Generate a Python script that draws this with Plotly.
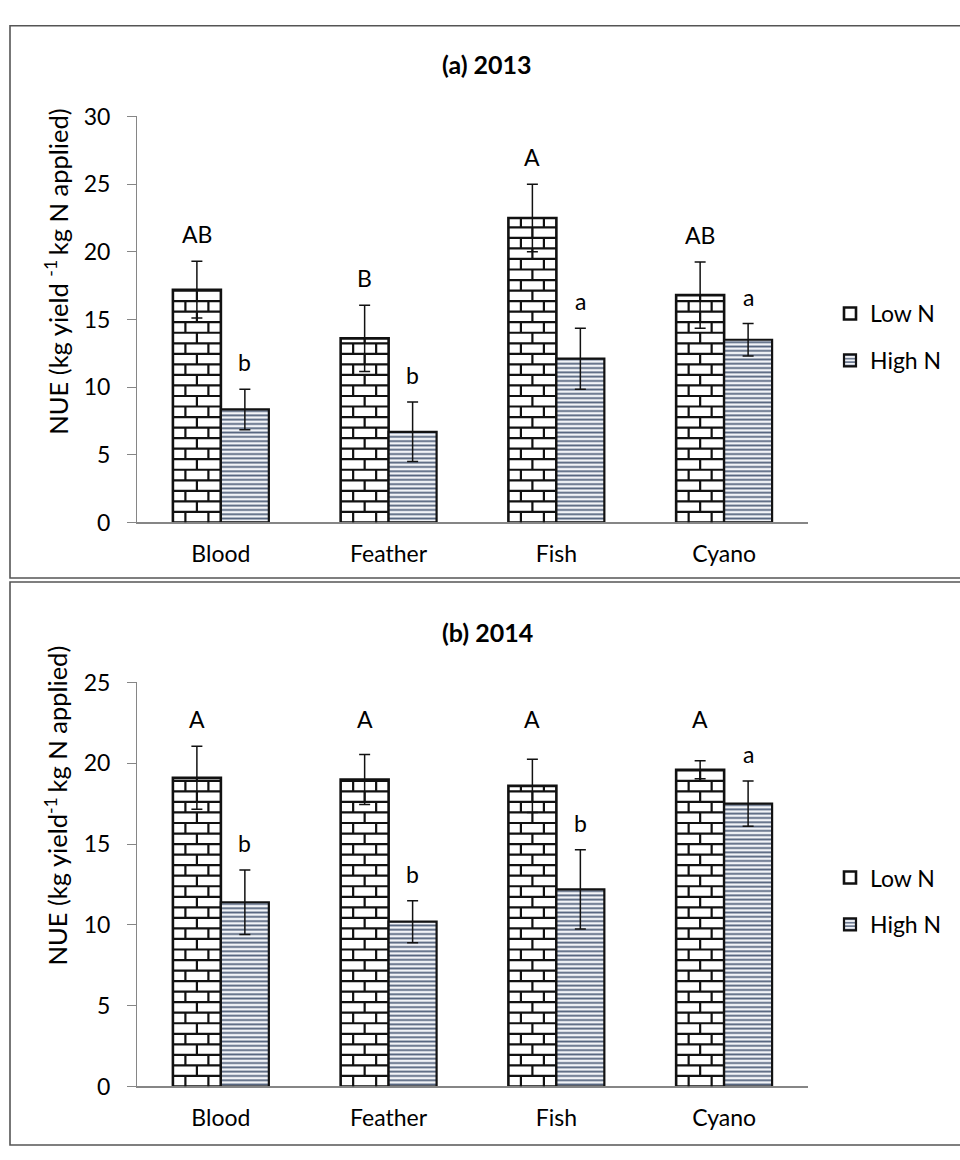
import plotly.graph_objects as go

# ---- data -------------------------------------------------------------
categories = ["Blood", "Feather", "Fish", "Cyano"]
series_names = ["Low N", "High N"]

nue_2013_low = [17.2, 13.6, 22.5, 16.8]
err_2013_low = [2.1, 2.45, 2.5, 2.45]
nue_2013_high = [8.35, 6.7, 12.1, 13.5]
err_2013_high = [1.5, 2.2, 2.25, 1.2]
letters_2013_low = ["AB", "B", "A", "AB"]
letters_2013_high = ["b", "b", "a", "a"]

nue_2014_low = [19.1, 19.0, 18.6, 19.6]
err_2014_low = [1.95, 1.55, 1.65, 0.55]
nue_2014_high = [11.4, 10.2, 12.2, 17.5]
err_2014_high = [2.0, 1.3, 2.45, 1.4]
letters_2014_low = ["A", "A", "A", "A"]
letters_2014_high = ["b", "b", "b", "a"]

y_ticks_2013 = [0, 5, 10, 15, 20, 25, 30]
y_ticks_2014 = [0, 5, 10, 15, 20, 25]

# ---- geometry / style -------------------------------------------------
W, H = 960, 1160
PX0, PX1 = 137, 808              # plot area left / right (px)
PANELS = {
    "a": dict(top=104, bottom=520, ymax=30),
    "b": dict(top=684, bottom=1098, ymax=25),
}
BAR_W = 0.286                    # bar width in category units
FONT = "Lato"
FS = 23
AXIS_GREY = "#868686"
INK = "#111111"

cat_px = (PX1 - PX0) / len(categories)


def pdom_y(top, bottom):
    return [(H - bottom) / H, (H - top) / H]


def brick_path(x_left, value, ppu):
    """Running-bond brick texture for one bar, in data coordinates."""
    row_h = 10.8 / ppu
    parts = []
    y = row_h
    while y < value - 1e-9:
        parts.append(f"M{x_left},{y} L{x_left + BAR_W},{y}")
        y += row_h
    r = 0
    ylo = 0.0
    while ylo < value - 1e-9:
        yhi = min(ylo + row_h, value)
        offs = [12.5, 35.5] if r % 2 == 0 else [24.0]
        for o in offs:
            xx = x_left + o / cat_px
            parts.append(f"M{xx},{ylo} L{xx},{yhi}")
        ylo += row_h
        r += 1
    return " ".join(parts)


fig = go.Figure()
shapes = []
annotations = []

panel_data = [
    ("a", "x", "y", "legend", nue_2013_low, err_2013_low, nue_2013_high, err_2013_high,
     letters_2013_low, letters_2013_high, False),
    ("b", "x2", "y2", "legend2", nue_2014_low, err_2014_low, nue_2014_high, err_2014_high,
     letters_2014_low, letters_2014_high, True),
]

xpos = list(range(len(categories)))

for (key, xa, ya, leg, low, elow, high, ehigh, let_low, let_high, align_low) in panel_data:
    p = PANELS[key]
    ppu = (p["bottom"] - p["top"]) / p["ymax"]

    fig.add_trace(go.Bar(
        x=xpos, y=low, width=BAR_W, offset=-BAR_W, name=series_names[0],
        xaxis=xa, yaxis=ya, legend=leg, legendgroup=key + "low",
        marker=dict(color="white", line=dict(color=INK, width=2.6)),
        error_y=dict(type="data", array=elow, color=INK, thickness=1.5, width=5.5),
    ))
    fig.add_trace(go.Bar(
        x=xpos, y=high, width=BAR_W, offset=0, name=series_names[1],
        xaxis=xa, yaxis=ya, legend=leg, legendgroup=key + "high",
        marker=dict(color="#eef1f5", line=dict(color=INK, width=2.2),
                    pattern=dict(shape="-", fgcolor="#55647e", bgcolor="#f2f4f8",
                                 size=4.3, solidity=0.42, fillmode="replace")),
        error_y=dict(type="data", array=ehigh, color=INK, thickness=1.5, width=5.5),
    ))

    # brick texture over the Low N bars
    for i, v in enumerate(low):
        shapes.append(dict(type="path", xref=xa, yref=ya,
                           path=brick_path(i - BAR_W, v, ppu),
                           line=dict(color=INK, width=2.2), layer="above"))

    # significance letters
    low_tops = [v + e for v, e in zip(low, elow)]
    high_tops = [v + e for v, e in zip(high, ehigh)]
    for i in xpos:
        ylow = max(low_tops) if align_low else low_tops[i]
        annotations.append(dict(x=i - BAR_W / 2, y=ylow, xref=xa, yref=ya,
                                text=let_low[i], showarrow=False, yshift=27,
                                font=dict(family=FONT, size=FS, color="black")))
        annotations.append(dict(x=i + BAR_W / 2, y=high_tops[i], xref=xa, yref=ya,
                                text=let_high[i], showarrow=False, yshift=27,
                                font=dict(family=FONT, size=FS, color="black")))

# ---- axes -------------------------------------------------------------
xdom = [PX0 / W, PX1 / W]
common_x = dict(range=[-0.5, len(categories) - 0.5], tickvals=xpos, ticktext=categories,
                showline=True, linecolor=AXIS_GREY, linewidth=1.5, ticks="",
                showgrid=False, zeroline=False, ticklabelstandoff=10,
                tickfont=dict(family=FONT, size=FS, color="black"), fixedrange=True)
common_y = dict(showline=True, linecolor=AXIS_GREY, linewidth=1, ticks="outside",
                ticklen=9, tickcolor=AXIS_GREY, showgrid=False, zeroline=False,
                ticklabelstandoff=12, tickfont=dict(family=FONT, size=FS, color="black"))

layout_axes = dict(
    xaxis=dict(domain=xdom, anchor="y", **common_x),
    xaxis2=dict(domain=xdom, anchor="y2", **common_x),
    yaxis=dict(domain=pdom_y(PANELS["a"]["top"], PANELS["a"]["bottom"]), anchor="x",
               range=[0, PANELS["a"]["ymax"]], tickvals=y_ticks_2013, **common_y),
    yaxis2=dict(domain=pdom_y(PANELS["b"]["top"], PANELS["b"]["bottom"]), anchor="x2",
                range=[0, PANELS["b"]["ymax"]], tickvals=y_ticks_2014, **common_y),
)

# ---- panel frames -----------------------------------------------------
for top, bottom in [(11, 577), (581, 1158)]:
    shapes.append(dict(type="rect", xref="paper", yref="paper",
                       x0=10 / W, x1=1.05, y0=(H - bottom) / H, y1=(H - top) / H,
                       line=dict(color="#555555", width=1.6), layer="below"))

# ---- titles -----------------------------------------------------------
for text, ycen in [("<b>(a) 2013</b>", 50), ("<b>(b) 2014</b>", 632)]:
    annotations.append(dict(x=487 / W, y=(H - ycen) / H, xref="paper", yref="paper",
                            text=text, showarrow=False, xanchor="center", yanchor="middle",
                            font=dict(family=FONT, size=25, color="black")))

for text, ycen in [("NUE (kg yield <sup>-1 </sup>kg N applied)", 263),
                   ("NUE (kg yield<sup>-1 </sup>kg N applied)", 810)]:
    annotations.append(dict(x=56 / W, y=(H - ycen) / H, xref="paper", yref="paper",
                            text=text, showarrow=False, textangle=-90,
                            xanchor="center", yanchor="middle",
                            font=dict(family=FONT, size=25.5, color="black")))

legend_style = dict(x=830 / W, xanchor="left", yanchor="middle", tracegroupgap=14,
                    bgcolor="rgba(0,0,0,0)", font=dict(family=FONT, size=FS, color="black"),
                    itemclick=False, itemdoubleclick=False)

fig.update_layout(
    width=W, height=H, margin=dict(l=0, r=0, t=0, b=0),
    paper_bgcolor="white", plot_bgcolor="white",
    barmode="overlay", showlegend=True,
    legend=dict(y=(H - 330) / H, **legend_style),
    legend2=dict(y=(H - 908) / H, **legend_style),
    shapes=shapes, annotations=annotations,
    font=dict(family=FONT, size=FS, color="black"),
    **layout_axes,
)

fig.write_html("out.html")
